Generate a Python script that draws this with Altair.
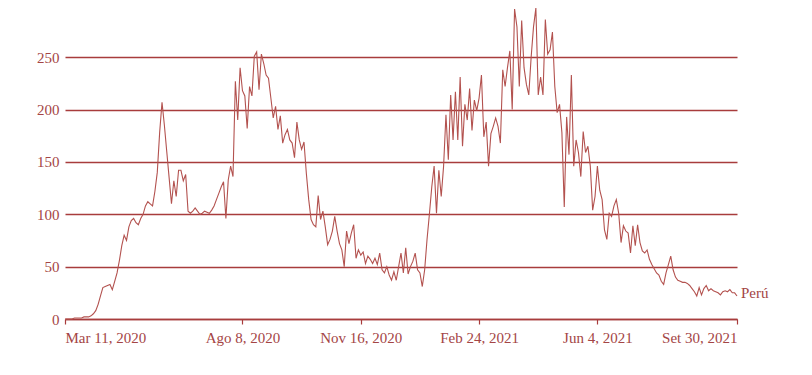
import altair as alt
import pandas as pd

# Daily deaths (7-day noise visible), sampled every 2 days from 2020-03-11 to 2021-09-30
values = [
    0, 0, 0, 0, 1, 1, 1, 1, 2, 2,
    2, 3, 5, 8, 14, 22, 30, 31, 32, 33,
    28, 36, 44, 56, 70, 80, 75, 88, 94, 96,
    92, 90, 96, 100, 108, 112, 110, 108, 122, 140,
    178, 207, 185, 160, 135, 110, 132, 117, 142, 142,
    132, 138, 103, 101, 103, 106, 103, 100, 101, 103,
    102, 101, 104, 108, 114, 120, 126, 131, 96, 133,
    146, 136, 227, 190, 240, 218, 213, 182, 222, 213,
    251, 255, 219, 253, 244, 233, 230, 211, 192, 203,
    181, 194, 168, 176, 181, 171, 168, 154, 188, 171,
    162, 169, 139, 114, 95, 90, 88, 118, 95, 103,
    88, 71, 76, 84, 98, 84, 72, 66, 50, 84,
    72, 82, 90, 58, 66, 61, 64, 53, 60, 57,
    53, 58, 52, 63, 47, 44, 50, 42, 37, 45,
    37, 50, 63, 44, 68, 43, 50, 55, 63, 47,
    44, 31, 47, 76, 100, 126, 146, 101, 142, 117,
    146, 195, 152, 214, 171, 217, 171, 231, 165, 205,
    190, 220, 180, 209, 199, 211, 233, 174, 188, 146,
    177, 184, 192, 184, 168, 238, 222, 240, 256, 200,
    296, 279, 222, 285, 240, 224, 214, 250, 279, 297,
    214, 231, 214, 286, 253, 257, 274, 222, 197, 205,
    178, 107, 193, 157, 233, 146, 171, 159, 136, 179,
    159, 165, 146, 104, 117, 146, 123, 114, 85, 76,
    101, 98, 108, 114, 101, 73, 89, 84, 82, 63,
    89, 70, 90, 73, 65, 63, 66, 57, 52, 48,
    44, 42, 36, 33, 44, 52, 60, 47, 40, 37,
    36, 35, 35, 34, 32, 29, 26, 22, 30, 23,
    29, 32, 27, 29, 27, 26, 25, 23, 26, 27,
    26, 28, 25, 25, 22,
]
start_date = "2020-03-11"
x_ticks = [(2020, 3, 11), (2020, 8, 8), (2020, 11, 16), (2021, 2, 24), (2021, 6, 4), (2021, 9, 30)]
month_names = ["Ene", "Feb", "Mar", "Abr", "May", "Jun", "Jul", "Ago", "Set", "Oct", "Nov", "Dic"]
y_ticks = [0, 50, 100, 150, 200, 250]
series_name = "Perú"

dates = pd.date_range(start_date, periods=len(values), freq="2D")
df = pd.DataFrame({"fecha": dates, "muertes": values, "pais": series_name})

LINE = "#b3524f"
GRID = "#a83c3c"
TEXT = "#a44545"
FONT = "Liberation Serif"

x_vals = [alt.DateTime(year=y, month=m, date=d) for (y, m, d) in x_ticks]
month_js = "[" + ",".join("'%s'" % m for m in month_names) + "]"
label_expr = month_js + "[month(datum.value)] + ' ' + date(datum.value) + ', ' + year(datum.value)"

x_enc = alt.X(
    "fecha:T",
    scale=alt.Scale(domain=[alt.DateTime(year=2020, month=3, date=11),
                            alt.DateTime(year=2021, month=9, date=30)], nice=False),
    axis=alt.Axis(
        title=None, values=x_vals, labelExpr=label_expr, grid=False,
        domainColor=GRID, domainWidth=1.5, tickColor=GRID, tickSize=5, tickWidth=1.2,
        labelFlush=True, labelPadding=6, labelColor=TEXT, labelFont=FONT, labelFontSize=15,
    ),
)
y_enc = alt.Y(
    "muertes:Q",
    scale=alt.Scale(domain=[0, 297], nice=False),
    axis=alt.Axis(
        title=None, values=y_ticks, grid=True, gridColor=GRID, gridWidth=1.4,
        domain=False, ticks=False, labelPadding=6, labelColor=TEXT,
        labelFont=FONT, labelFontSize=15,
    ),
)

line = alt.Chart(df).mark_line(color=LINE, strokeWidth=1.1, interpolate="linear").encode(x=x_enc, y=y_enc)

label = alt.Chart(df.tail(1)).mark_text(
    align="left", baseline="middle", dx=4, dy=-3, color=TEXT, font=FONT, fontSize=15
).encode(x="fecha:T", y="muertes:Q", text="pais:N")

chart = (
    alt.layer(line, label)
    .properties(width=672, height=311, autosize=alt.AutoSizeParams(type="none"),
                padding={"left": 57, "top": 0, "right": 60, "bottom": 50},
                background="white")
    .configure_view(stroke=None)
)

chart.save("out.html", embed_options={"renderer": "svg", "actions": False})
